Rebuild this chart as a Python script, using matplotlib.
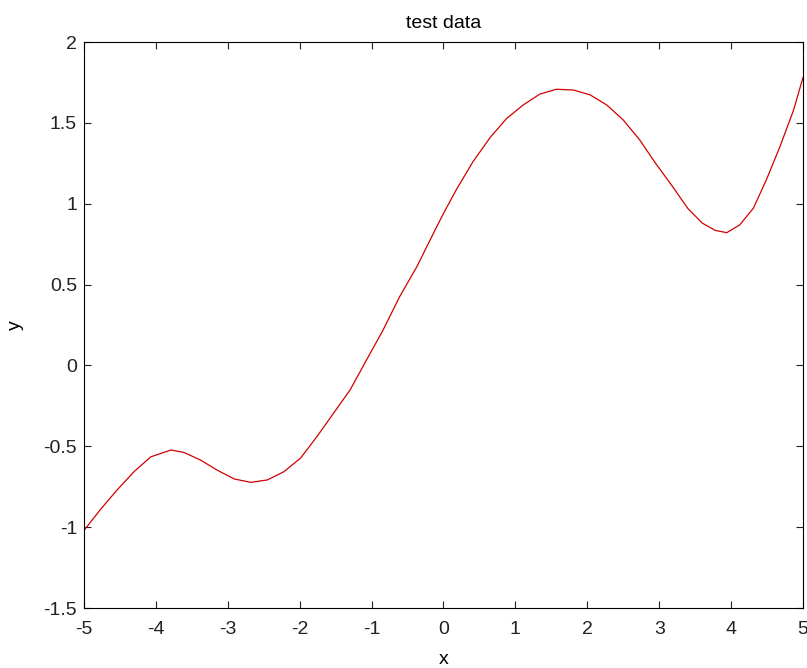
import matplotlib
matplotlib.use('Agg')
import matplotlib.pyplot as plt

# values
x = [-5.0, -4.77, -4.54, -4.30, -4.07, -3.79, -3.61, -3.38, -3.15, -2.91,
     -2.68, -2.45, -2.22, -1.99, -1.76, -1.53, -1.30, -1.07, -0.84, -0.61,
     -0.37, -0.14, 0.0, 0.18, 0.41, 0.65, 0.88, 1.11, 1.34, 1.57,
     1.81, 2.04, 2.27, 2.50, 2.73, 2.95, 3.18, 3.40, 3.60, 3.78,
     3.94, 4.12, 4.31, 4.49, 4.68, 4.87, 5.0]
y = [-1.02, -0.89, -0.77, -0.655, -0.565, -0.523, -0.538, -0.585, -0.647, -0.702,
     -0.723, -0.708, -0.657, -0.574, -0.44, -0.296, -0.152, 0.034, 0.219, 0.425,
     0.611, 0.817, 0.94, 1.088, 1.26, 1.41, 1.528, 1.611, 1.678, 1.708,
     1.703, 1.673, 1.611, 1.518, 1.394, 1.25, 1.11, 0.97, 0.88, 0.835,
     0.821, 0.869, 0.972, 1.147, 1.353, 1.58, 1.78]

xticks = [-5, -4, -3, -2, -1, 0, 1, 2, 3, 4, 5]
yticks = [-1.5, -1, -0.5, 0, 0.5, 1, 1.5, 2]
yticklabels = ['-1.5', '-1', '-0.5', '0', '0.5', '1', '1.5', '2']

plt.rcParams['font.family'] = ['Liberation Sans', 'DejaVu Sans']
plt.rcParams['axes.unicode_minus'] = False

fig = plt.figure(figsize=(8.07, 6.68), dpi=100)
ax = fig.add_axes([0.1041, 0.0898, 0.8909, 0.8473])
ax.plot(x, y, color=(0.82, 0, 0), lw=0.9)
ax.set_xlim(-5, 5)
ax.set_ylim(-1.5, 2)
ax.set_xticks(xticks)
ax.set_yticks(yticks)
ax.set_yticklabels(yticklabels)
ax.tick_params(direction='in', length=5, width=0.8, top=True, right=True,
               labelsize=14, colors='#222222')
ax.tick_params(axis='x', pad=9)
ax.tick_params(axis='y', pad=5)
for s in ax.spines.values():
    s.set_linewidth(0.8)
ax.set_title('test data', fontsize=14, pad=10)
ax.set_xlabel('x', fontsize=14, labelpad=10)
ax.set_ylabel('y', fontsize=14, labelpad=14)
fig.savefig('out.png', dpi=100)
